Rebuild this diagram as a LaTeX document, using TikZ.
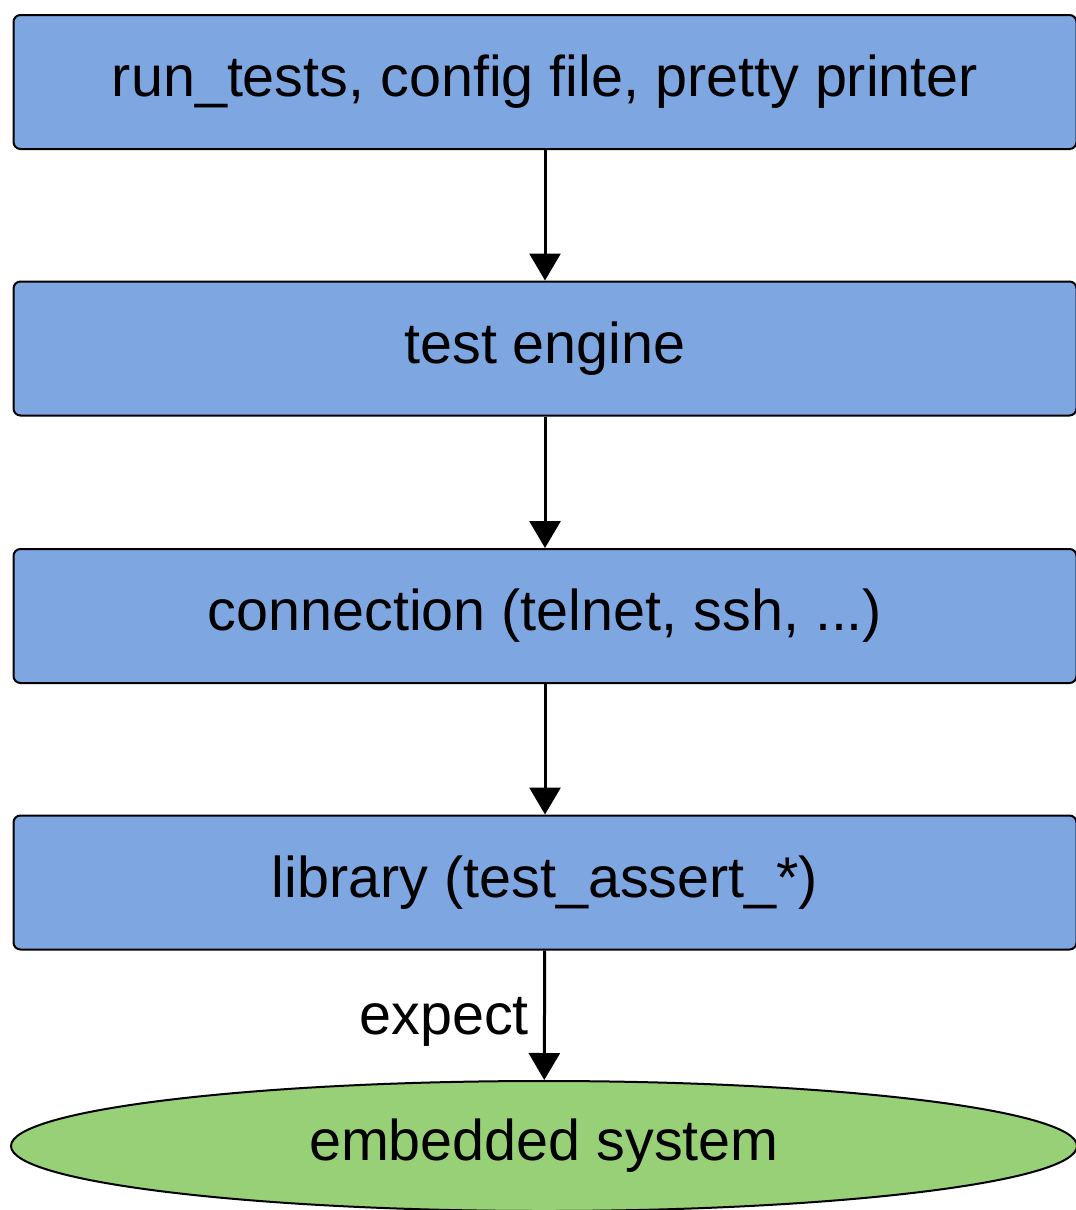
\documentclass[tikz,border=0pt]{standalone}
\usepackage{fontspec}
\setmainfont{Liberation Sans}
\usetikzlibrary{shapes.geometric,arrows.meta}
\definecolor{layerblue}{HTML}{7EA6E0}
\definecolor{targetgreen}{HTML}{97D077}

\begin{document}
\begin{tikzpicture}
[every node/.style={inner sep=0pt, font=\fontsize{57.5}{62}\selectfont},
 layer/.style={rectangle, rounded corners=7pt, minimum width=1063pt, minimum height=134pt, fill=layerblue, line width=2pt, draw=black},
 target/.style={ellipse, minimum width=1066pt, minimum height=130pt, fill=targetgreen, line width=2pt, draw=black},
 flow/.style={line width=3pt, -{Triangle[length=27pt, width=31pt]}, color=black}]
\useasboundingbox (0pt, 0pt) rectangle (1076pt, -1210pt);
\node (runner) [layer] at (545pt, -82pt) {run\_tests, config file, pretty printer};
\node (engine) [layer] at (545pt, -348.5pt) {test engine};
\node (conn) [layer] at (545pt, -616pt) {connection (telnet, ssh, ...)};
\node (lib) [layer] at (545pt, -882.5pt) {library (test\_assert\_*)};
\node (sys) [target] at (544pt, -1146pt) {embedded system};
\draw [flow] (runner) to (engine);
\draw [flow] (engine) to (conn);
\draw [flow] (conn) to (lib);
\draw [flow] (lib) to node [left=14pt, pos=0.55] {expect} (sys);
\end{tikzpicture}
\end{document}
